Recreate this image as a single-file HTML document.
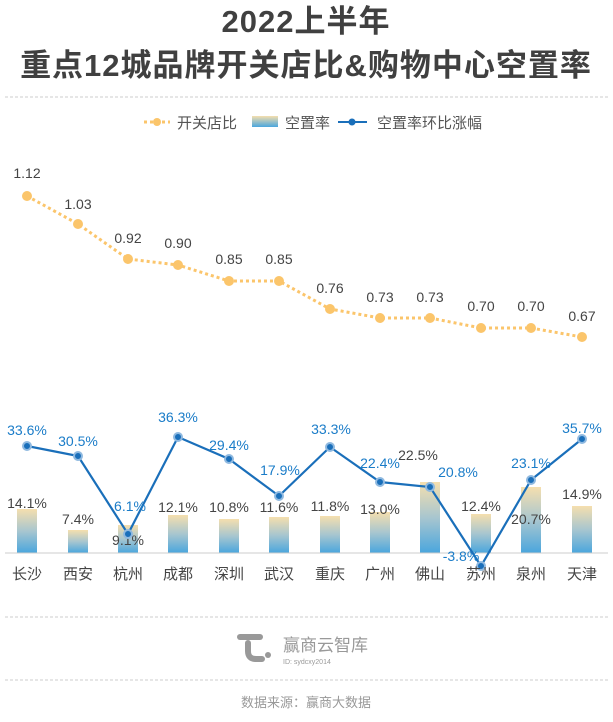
<!DOCTYPE html>
<html><head><meta charset="utf-8"><style>
body{margin:0;background:#fff;}
svg text{font-family:"Liberation Sans","Noto Sans CJK SC",sans-serif;}
</style></head><body>
<svg width="613" height="717" viewBox="0 0 613 717" xmlns="http://www.w3.org/2000/svg">
<defs>
<linearGradient id="g" x1="0" y1="0" x2="0" y2="1">
<stop offset="0" stop-color="#f5dfae"/><stop offset="0.5" stop-color="#a8c6cf"/><stop offset="1" stop-color="#4aa6dd"/>
</linearGradient>
<linearGradient id="gl" x1="0" y1="0" x2="0" y2="1">
<stop offset="0" stop-color="#f5dfae"/><stop offset="1" stop-color="#4aa6dd"/>
</linearGradient>
</defs>
<rect width="613" height="717" fill="#fff"/>
<text x="306" y="32" text-anchor="middle" font-size="31" letter-spacing="1" fill="#404040" font-weight="bold">2022上半年</text>
<text x="306" y="76" text-anchor="middle" font-size="31" letter-spacing="1" fill="#404040" font-weight="bold">重点12城品牌开关店比&amp;购物中心空置率</text>
<line x1="5" y1="97" x2="608" y2="97" stroke="#ccc" stroke-dasharray="3,2"/>
<line x1="144" y1="122" x2="170" y2="122" stroke="#fbc56b" stroke-width="3" stroke-dasharray="3,3"/>
<circle cx="157" cy="122" r="4" fill="#fbc56b"/>
<text x="177" y="128" font-size="15" fill="#555">开关店比</text>
<rect x="252" y="116" width="26" height="11" fill="url(#gl)"/>
<text x="285" y="128" font-size="15" fill="#555">空置率</text>
<line x1="338" y1="122" x2="367" y2="122" stroke="#1a6fba" stroke-width="2"/>
<circle cx="352" cy="122" r="3.5" fill="#1a6fba"/>
<text x="377" y="128" font-size="15" fill="#555">空置率环比涨幅</text>
<g fill="url(#g)">
<rect x="17" y="509" width="20" height="44"/>
<rect x="68" y="530" width="20" height="23"/>
<rect x="118" y="525" width="20" height="28"/>
<rect x="168" y="515" width="20" height="38"/>
<rect x="219" y="519" width="20" height="34"/>
<rect x="269" y="517" width="20" height="36"/>
<rect x="320" y="516" width="20" height="37"/>
<rect x="370" y="512" width="20" height="41"/>
<rect x="420" y="482" width="20" height="71"/>
<rect x="471" y="514" width="20" height="39"/>
<rect x="521" y="487" width="20" height="66"/>
<rect x="572" y="506" width="20" height="47"/>
</g>
<line x1="5" y1="553" x2="608" y2="553" stroke="#ccc"/>
<g font-size="14" fill="#444" text-anchor="middle">
<text x="27" y="508">14.1%</text><text x="78" y="524">7.4%</text><text x="128" y="545">9.1%</text>
<text x="178" y="512">12.1%</text><text x="229" y="512">10.8%</text><text x="279" y="512">11.6%</text>
<text x="330" y="511">11.8%</text><text x="380" y="514">13.0%</text><text x="418" y="460">22.5%</text>
<text x="481" y="511">12.4%</text><text x="531" y="524">20.7%</text><text x="582" y="499">14.9%</text>
</g>
<polyline fill="none" stroke="#fbc56b" stroke-width="3" stroke-dasharray="3,3" points="27,196 78,224 128,259 178,265 229,281 279,281 330,309 380,318 430,318 481,328 531,328 582,337"/>
<g fill="#fbc56b">
<circle cx="27" cy="196" r="5"/><circle cx="78" cy="224" r="5"/><circle cx="128" cy="259" r="5"/><circle cx="178" cy="265" r="5"/><circle cx="229" cy="281" r="5"/><circle cx="279" cy="281" r="5"/><circle cx="330" cy="309" r="5"/><circle cx="380" cy="318" r="5"/><circle cx="430" cy="318" r="5"/><circle cx="481" cy="328" r="5"/><circle cx="531" cy="328" r="5"/><circle cx="582" cy="337" r="5"/>
</g>
<g font-size="14" fill="#444" text-anchor="middle">
<text x="27" y="178">1.12</text><text x="78" y="209">1.03</text><text x="128" y="243">0.92</text><text x="178" y="248">0.90</text><text x="229" y="264">0.85</text><text x="279" y="264">0.85</text><text x="330" y="293">0.76</text><text x="380" y="302">0.73</text><text x="430" y="302">0.73</text><text x="481" y="311">0.70</text><text x="531" y="311">0.70</text><text x="582" y="321">0.67</text>
</g>
<polyline fill="none" stroke="#1a6fba" stroke-width="2.2" points="27,446 78,456 128,534 178,437 229,459 279,496 330,447 380,482 430,487 481,566 531,480 582,439"/>
<g fill="#1a6fba" stroke="#8fb9e0" stroke-width="2">
<circle cx="27" cy="446" r="4"/><circle cx="78" cy="456" r="4"/><circle cx="128" cy="534" r="4"/><circle cx="178" cy="437" r="4"/><circle cx="229" cy="459" r="4"/><circle cx="279" cy="496" r="4"/><circle cx="330" cy="447" r="4"/><circle cx="380" cy="482" r="4"/><circle cx="430" cy="487" r="4"/><circle cx="481" cy="566" r="4"/><circle cx="531" cy="480" r="4"/><circle cx="582" cy="439" r="4"/>
</g>
<g font-size="14" fill="#1a7cc8" text-anchor="middle">
<text x="27" y="435">33.6%</text><text x="78" y="446">30.5%</text><text x="130" y="511">6.1%</text><text x="178" y="422">36.3%</text><text x="229" y="450">29.4%</text><text x="280" y="475">17.9%</text><text x="331" y="434">33.3%</text><text x="380" y="468">22.4%</text><text x="458" y="477">20.8%</text><text x="461" y="561">-3.8%</text><text x="531" y="468">23.1%</text><text x="582" y="433">35.7%</text>
</g>
<g font-size="15" fill="#444" text-anchor="middle">
<text x="27" y="579">长沙</text><text x="78" y="579">西安</text><text x="128" y="579">杭州</text><text x="178" y="579">成都</text><text x="229" y="579">深圳</text><text x="279" y="579">武汉</text><text x="330" y="579">重庆</text><text x="380" y="579">广州</text><text x="430" y="579">佛山</text><text x="481" y="579">苏州</text><text x="531" y="579">泉州</text><text x="582" y="579">天津</text>
</g>
<line x1="5" y1="617" x2="608" y2="617" stroke="#ccc" stroke-dasharray="3,2"/>
<rect x="237" y="634" width="26" height="6" rx="3" fill="#999"/>
<path d="M248 643 v8 q0 8 8 8 h6" fill="none" stroke="#999" stroke-width="6" stroke-linecap="round"/>
<circle cx="268" cy="655" r="3" fill="#999"/>
<text x="283" y="651" font-size="17" fill="#999">赢商云智库</text>
<text x="283" y="664" font-size="7" fill="#999">ID: sydcxy2014</text>
<line x1="5" y1="680" x2="608" y2="680" stroke="#ccc" stroke-dasharray="3,2"/>
<text x="306" y="707" text-anchor="middle" font-size="13" fill="#999">数据来源：赢商大数据</text>
</svg>
</body></html>
